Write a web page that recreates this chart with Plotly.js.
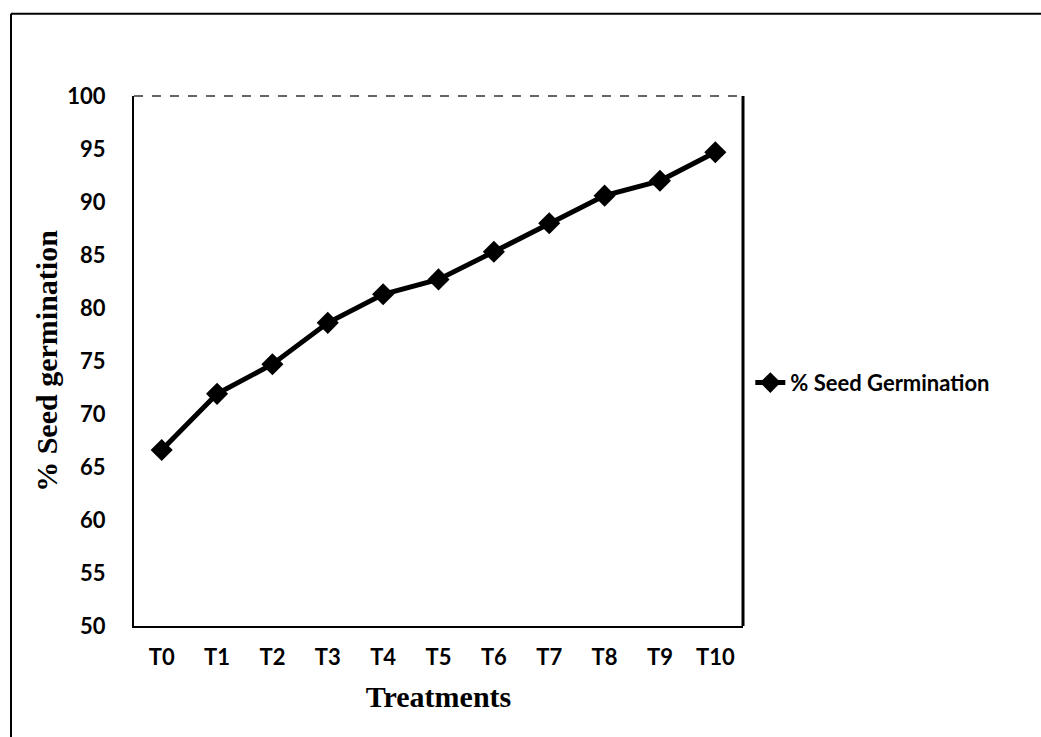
<!DOCTYPE html>
<html>
<head>
<meta charset="utf-8">
<script src="https://cdn.plot.ly/plotly-3.0.1.min.js"></script>
<style>html,body{margin:0;padding:0;background:#fff;}#chart{width:1041px;height:737px;}</style>
</head>
<body>
<div id="chart"></div>
<script>
const treatments = ["T0","T1","T2","T3","T4","T5","T6","T7","T8","T9","T10"];
const germination = [66.6, 71.9, 74.7, 78.6, 81.3, 82.7, 85.3, 88.0, 90.6, 92.0, 94.7];
const yTicks = [50,55,60,65,70,75,80,85,90,95,100];
const seriesName = "% Seed Germination";

const tickFont = {family: "Lato, 'Open Sans', sans-serif", size: 22, color: "#000", weight: "bold"};
const legendFont = {family: "Lato, 'Open Sans', sans-serif", size: 22, color: "#000", weight: "bold"};
const titleFont = {family: "'Liberation Serif', 'Times New Roman', serif", size: 30, color: "#000", weight: "bold"};

const trace = {
  x: treatments,
  y: germination,
  type: "scatter",
  mode: "lines+markers",
  name: seriesName,
  line: {color: "#000", width: 5},
  marker: {symbol: "diamond", size: 17, color: "#000"}
};

const layout = {
  width: 1041, height: 737,
  margin: {l: 134, r: 298, t: 96, b: 111},
  paper_bgcolor: "#fff", plot_bgcolor: "#fff",
  showlegend: true,
  legend: {x: 1.012, y: 0.459, xanchor: "left", yanchor: "middle",
           font: legendFont, itemwidth: 30, bgcolor: "rgba(0,0,0,0)"},
  xaxis: {
    type: "category", range: [-0.5, 10.5],
    showgrid: false, zeroline: false,
    showline: true, linecolor: "#000", linewidth: 2,
    ticks: "", tickfont: tickFont, ticklabelstandoff: 11,
    title: {text: "Treatments", font: titleFont, standoff: 17}
  },
  yaxis: {
    range: [50, 100], tickvals: yTicks, ticktext: yTicks.map(String),
    showgrid: false, zeroline: false,
    showline: true, linecolor: "#000", linewidth: 2,
    ticks: "", tickfont: tickFont, ticklabelstandoff: 22,
    title: {text: "% Seed germination", font: titleFont, standoff: 1}
  },
  shapes: [
    {type: "line", xref: "paper", yref: "paper", x0: 0, x1: 1, y0: 1, y1: 1,
     line: {color: "#333", width: 1.5, dash: "dash"}},
    {type: "line", xref: "paper", yref: "paper", x0: 1, x1: 1, y0: 0, y1: 1,
     line: {color: "#000", width: 3}},
    // outer figure frame (top and left edges)
    {type: "line", xref: "paper", yref: "paper",
     x0: (11-134)/609, x1: (1041-134)/609, y0: (626-15)/529, y1: (626-15)/529,
     line: {color: "#000", width: 2}},
    {type: "line", xref: "paper", yref: "paper",
     x0: (11-134)/609, x1: (11-134)/609, y0: (626-15)/529, y1: (626-737)/529,
     line: {color: "#000", width: 2}}
  ]
};

Plotly.newPlot("chart", [trace], layout, {displayModeBar: false, staticPlot: true});
</script>
</body>
</html>
